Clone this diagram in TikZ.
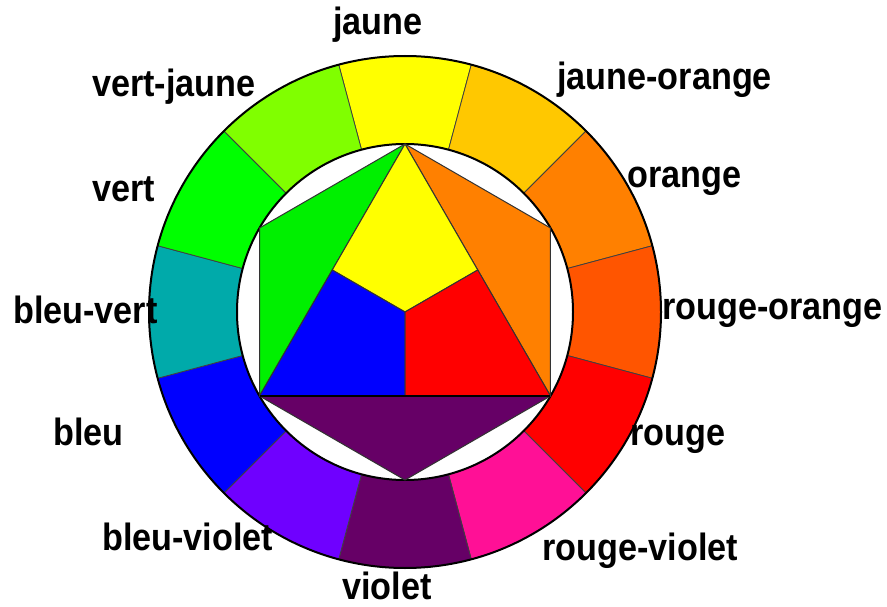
\documentclass[tikz,border=0pt]{standalone}
\usepackage{fontspec}
\usetikzlibrary{calc}
\newfontfamily\labfont{Liberation Sans}[FakeStretch=0.9]
\definecolor{cJ}{HTML}{FFFF00}
\definecolor{cJO}{HTML}{FFC800}
\definecolor{cO}{HTML}{FF8000}
\definecolor{cRO}{HTML}{FF5500}
\definecolor{cR}{HTML}{FF0000}
\definecolor{cRV}{HTML}{FF1096}
\definecolor{cV}{HTML}{660066}
\definecolor{cBV}{HTML}{6F00FF}
\definecolor{cB}{HTML}{0000FF}
\definecolor{cBVe}{HTML}{00AAAA}
\definecolor{cVe}{HTML}{00FF00}
\definecolor{cVJ}{HTML}{80FF00}
\definecolor{iG}{HTML}{00F000}
\tikzset{
  lab/.style={anchor=base west, inner sep=0pt, text=black,
    font=\labfont\bfseries\fontsize{38}{40}\selectfont},
  seg/.style={draw=black!75, line width=0.8pt},
  tri/.style={draw=black!80, line width=1pt, line join=round},
  rim/.style={draw=black, line width=2pt}
}
\begin{document}
\begin{tikzpicture}[x=1pt,y=1pt]
\useasboundingbox (0,0) rectangle (887,-607);
\begin{scope}[shift={(405,-312)}]
  % ring segments
  \foreach \a/\c in {90/cJ,60/cJO,30/cO,0/cRO,-30/cR,-60/cRV,-90/cV,-120/cBV,-150/cB,180/cBVe,150/cVe,120/cVJ}{
    \pgfmathsetmacro\s{\a-15}
    \pgfmathsetmacro\e{\a+15}
    \filldraw[seg, fill=\c] (\s:256) arc[start angle=\s, end angle=\e, radius=256]
      -- (\e:168) arc[start angle=\e, end angle=\s, radius=168] -- cycle;
  }
  \draw[rim] (0,0) circle[radius=256];
  \draw[rim, fill=white] (0,0) circle[radius=168];
  % hexagon points
  \coordinate (T) at (90:168);
  \coordinate (UL) at (150:168);
  \coordinate (LL) at (210:168);
  \coordinate (B) at (270:168);
  \coordinate (LR) at (330:168);
  \coordinate (UR) at (30:168);
  \coordinate (C) at (0,0);
  \coordinate (ML) at ($(T)!0.5!(LL)$);
  \coordinate (MR) at ($(T)!0.5!(LR)$);
  \coordinate (MB) at ($(LL)!0.5!(LR)$);
  \filldraw[tri, fill=iG] (T) -- (UL) -- (LL) -- cycle;
  \filldraw[tri, fill=cO] (T) -- (UR) -- (LR) -- cycle;
  \filldraw[tri, fill=cV] (LL) -- (B) -- (LR) -- cycle;
  \filldraw[tri, fill=cJ] (T) -- (MR) -- (C) -- (ML) -- cycle;
  \filldraw[tri, fill=cB] (LL) -- (ML) -- (C) -- (MB) -- cycle;
  \filldraw[tri, fill=cR] (LR) -- (MB) -- (C) -- (MR) -- cycle;
  \draw[black, line width=1.5pt] (LL) -- (LR);
\end{scope}
% labels
\node[lab] (ljaune) at (333,-35) {jaune};
\node[lab] (lvertjaune) at (92,-97) {vert-jaune};
\node[lab] (lvert) at (92,-202) {vert};
\node[lab] (ljauneorange) at (557,-90) {jaune-orange};
\node[lab] (lorange) at (627,-188) {orange};
\node[lab] (lbleuvert) at (13,-323) {bleu-vert};
\node[lab] (lrougeorange) at (662,-319) {rouge-orange};
\node[lab] (lbleu) at (53,-445) {bleu};
\node[lab] (lrouge) at (630,-445) {rouge};
\node[lab] (lbleuviolet) at (102,-550) {bleu-violet};
\node[lab] (lviolet) at (342,-599) {violet};
\node[lab] (lrougeviolet) at (542,-560) {rouge-violet};
\end{tikzpicture}
\end{document}
